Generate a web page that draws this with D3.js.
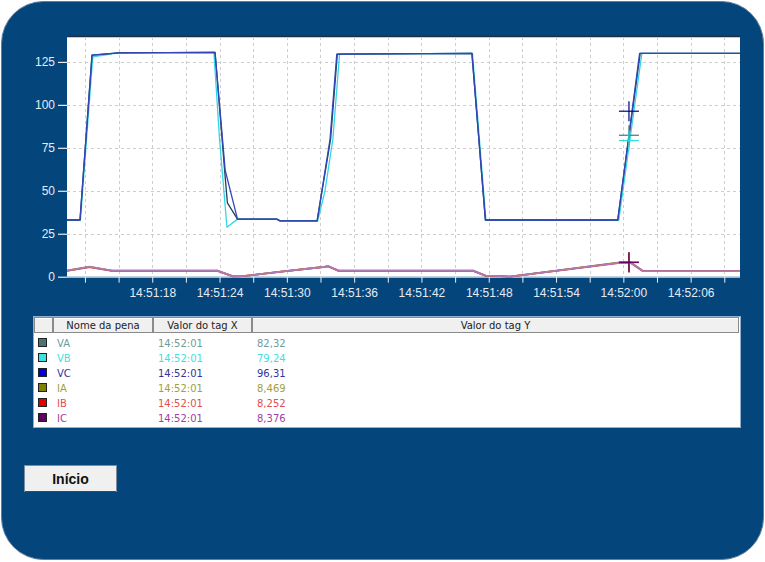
<!DOCTYPE html>
<html><head><meta charset="utf-8">
<script src="https://cdn.jsdelivr.net/npm/d3@7"></script>
<style>body{margin:0;background:#fff}svg{display:block}</style>
</head><body>
<svg id="c" width="765" height="562"></svg>
<script>
// ---- data (time = seconds after 14:51:00) ----
const penNames = ["VA","VB","VC","IA","IB","IC"];
const penSwatch = ["#4a7474","#3fe0e0","#0000e0","#808000","#e00000","#600060"];
const penText = ["#6f9a9a","#40e0e0","#333399","#a0a040","#e05050","#a040a0"];
const penLine = ["#23405e","#33d6e6","#3346b8","#808000","#d04040","#b07ab4"];
const cursorTimeLabel = "14:52:01";
const cursorTime = 60.5;
const cursorValues = [82.32, 79.24, 96.31, 8.469, 8.252, 8.376];

const VA = [[10.4,33],[11.56,33],[12.63,129],[15,130.3],[23.6,130.5],[24.45,62],[24.7,43],[25.6,33.5],[29.1,33.5],[29.4,32.5],[32.7,32.5],[33.9,80],[34.5,129.5],[46.5,130],[47.7,33],[53.2,33],[59.5,33],[61.5,130],[70.4,130]];
const VB = [[10.4,33],[11.6,33],[12.7,128],[15,130.3],[23.5,130.5],[24.0,80],[24.66,28.8],[25.6,33.5],[29.1,33.5],[29.4,32.5],[32.75,32.5],[33.4,50],[34.1,80],[34.7,129.5],[46.55,130],[47.75,33],[53.2,33],[59.6,33],[61.65,130],[70.4,130]];
const VC = [[10.4,33],[11.56,33],[12.63,129],[15,130.3],[23.6,130.5],[24.5,62],[25.6,33.5],[29.1,33.5],[29.4,32.5],[32.7,32.5],[33.85,80],[34.45,129.5],[46.5,130],[47.7,33],[53.2,33],[53.3,32.8],[59.5,33],[61.45,130],[70.4,130]];
const IA = [[10.4,3.5],[12.4,5.7],[14.4,3.5],[23.8,3.5],[25.2,0.2],[26.1,0.3],[29.5,3],[33.4,5.8],[33.7,6.1],[34.6,3.5],[46.6,3.5],[47.7,0.6],[48.6,0.5],[49.9,0],[59.7,8.3],[60.6,8.5],[61.75,3.3],[70.4,3.3]];
const IB = [[10.4,3.4],[12.4,5.6],[14.4,3.4],[23.8,3.4],[25.2,0.2],[26.1,0.3],[29.5,2.9],[33.4,5.7],[33.7,6.0],[34.6,3.4],[46.6,3.4],[47.7,0.6],[48.6,0.5],[49.9,0],[59.7,8.1],[60.6,8.2],[61.75,3.2],[70.4,3.2]];
const IC = [[10.4,3.5],[12.4,5.8],[14.4,3.5],[23.8,3.5],[25.2,0.2],[26.1,0.3],[29.5,3],[33.4,5.8],[33.7,6.2],[34.6,3.5],[46.6,3.5],[47.7,0.6],[48.6,0.5],[49.9,0],[59.7,8.2],[60.6,8.4],[61.75,3.3],[70.4,3.3]];
const series = [VA,VB,VC,IA,IB,IC];

const xDomain = [10.4, 70.4];
const yDomain = [0, 139.5];
const yTicks = [0,25,50,75,100,125];
const xTickLabels = ["14:51:18","14:51:24","14:51:30","14:51:36","14:51:42","14:51:48","14:51:54","14:52:00","14:52:06"];

// ---- drawing ----
const svg = d3.select("#c");
const base = new Date(2000,0,1,14,51,0);
const toDate = s => new Date(base.getTime() + s*1000);
const L = 67, R = 740, T = 37, B = 276.7;
const x = d3.scaleTime().domain(xDomain.map(toDate)).range([L, R]);
const y = d3.scaleLinear().domain(yDomain).range([B, T]);
const fmt = d3.timeFormat("%H:%M:%S");

// panel
svg.append("rect").attr("x",1.5).attr("y",1.5).attr("width",762).attr("height",558)
  .attr("rx",42).attr("ry",42).attr("fill","#04457b").attr("stroke","#5f7f9f").attr("stroke-width",1);

// plot area
svg.append("rect").attr("x",L).attr("y",T).attr("width",R-L).attr("height",B-T).attr("fill","#fff");
svg.append("line").attr("x1",L).attr("x2",R).attr("y1",T-0.5).attr("y2",T-0.5).attr("stroke","#1b2f4a").attr("stroke-width",1.5);

const tickDates = d3.timeSecond.every(3).range(x.domain()[0], x.domain()[1]);
// grid
const g = svg.append("g");
g.selectAll("line.v").data(tickDates).join("line")
  .attr("x1",d=>Math.round(x(d))+0.5).attr("x2",d=>Math.round(x(d))+0.5).attr("y1",T).attr("y2",B)
  .attr("stroke","#cdcdcd").attr("stroke-dasharray","3,3");
g.selectAll("line.h").data(yTicks.filter(v=>v>0)).join("line")
  .attr("x1",L).attr("x2",R).attr("y1",d=>Math.round(y(d))+0.5).attr("y2",d=>Math.round(y(d))+0.5)
  .attr("stroke","#cdcdcd").attr("stroke-dasharray","3,3");

// y axis
const yAxis = svg.append("g").attr("transform",`translate(${L},0)`)
  .call(d3.axisLeft(y).tickValues(yTicks).tickSize(9).tickPadding(3));
yAxis.select(".domain").remove();
yAxis.selectAll("line").attr("stroke","#e8eef5").attr("stroke-width",1.2);
yAxis.selectAll("text").attr("fill","#e4ebf3").attr("font-family","Liberation Sans, Arial, sans-serif").attr("font-size",12);

// x axis
const xAxis = svg.append("g").attr("transform",`translate(0,${B})`)
  .call(d3.axisBottom(x).tickValues(tickDates).tickSize(6).tickPadding(6)
    .tickFormat(d => xTickLabels.includes(fmt(d)) ? fmt(d) : ""));
xAxis.select(".domain").attr("stroke","#e8eef5").attr("d",`M${L},0.5H${R}`);
xAxis.selectAll("line").attr("stroke","#e8eef5");
xAxis.selectAll("text").attr("fill","#e4ebf3").attr("font-family","Liberation Sans, Arial, sans-serif").attr("font-size",12);

// lines
const line = d3.line().x(d=>x(toDate(d[0]))).y(d=>y(d[1]));
const order = [3,4,5,1,0,2];
const lg = svg.append("g");
order.forEach(i=>{
  lg.append("path").datum(series[i]).attr("d",line).attr("fill","none")
    .attr("stroke",penLine[i]).attr("stroke-width", i>=3 ? 1.8 : 1.3).attr("stroke-linejoin","round");
});

// cursor crosses
const cx = x(toDate(cursorTime));
const crossColor = ["#4a7474","#33dddd","#000080","#808000","#c03030","#600060"];
[3,4,0,1,2,5].forEach(i=>{
  const cy = y(cursorValues[i]);
  svg.append("line").attr("x1",cx-10).attr("x2",cx+10).attr("y1",cy).attr("y2",cy).attr("stroke",crossColor[i]).attr("stroke-width",1.2);
  svg.append("line").attr("x1",cx).attr("x2",cx).attr("y1",cy-10).attr("y2",cy+10).attr("stroke",crossColor[i]).attr("stroke-width",1.2);
});

// table
const tb = svg.append("g");
tb.append("rect").attr("x",33.5).attr("y",316.5).attr("width",707).attr("height",111).attr("fill","#fff").attr("stroke","#8fb0cf");
const cols = [[34,53,""],[53,153,"Nome da pena"],[153,252,"Valor do tag X"],[252,739,"Valor do tag Y"]];
cols.forEach(c=>{
  tb.append("rect").attr("x",c[0]+0.5).attr("y",317.5).attr("width",c[1]-c[0]-1).attr("height",15)
    .attr("fill","#f0f0f0").attr("stroke","#8a8a8a");
  tb.append("line").attr("x1",c[0]+1).attr("x2",c[1]-1).attr("y1",318.5).attr("y2",318.5).attr("stroke","#fff");
  tb.append("text").attr("x",(c[0]+c[1])/2).attr("y",329).attr("text-anchor","middle")
    .attr("font-family","DejaVu Sans, sans-serif").attr("font-size",10).attr("fill","#222").text(c[2]);
});
penNames.forEach((n,i)=>{
  const ry = 343 + i*15;
  tb.append("rect").attr("x",38.5).attr("y",ry-4.5).attr("width",8).attr("height",8)
    .attr("fill",penSwatch[i]).attr("stroke","#222");
  const t = (xx,s)=>tb.append("text").attr("x",xx).attr("y",ry+4).attr("font-family","DejaVu Sans, sans-serif")
    .attr("font-size",10).attr("fill",penText[i]).text(s);
  t(57,n); t(158,cursorTimeLabel); t(257,String(cursorValues[i]).replace(".",","));
});

// button
const bt = svg.append("g");
bt.append("rect").attr("x",24.5).attr("y",465.5).attr("width",92).attr("height",26).attr("fill","#f0f0f0").attr("stroke","#7d8ea0");
bt.append("line").attr("x1",25).attr("x2",116).attr("y1",491.5).attr("y2",491.5).attr("stroke","#3a4a5a");
bt.append("text").attr("x",70.5).attr("y",484).attr("text-anchor","middle").attr("font-family","Liberation Sans, Arial, sans-serif")
  .attr("font-weight","bold").attr("font-size",14).attr("fill","#111").text("Início");
</script>
</body></html>
